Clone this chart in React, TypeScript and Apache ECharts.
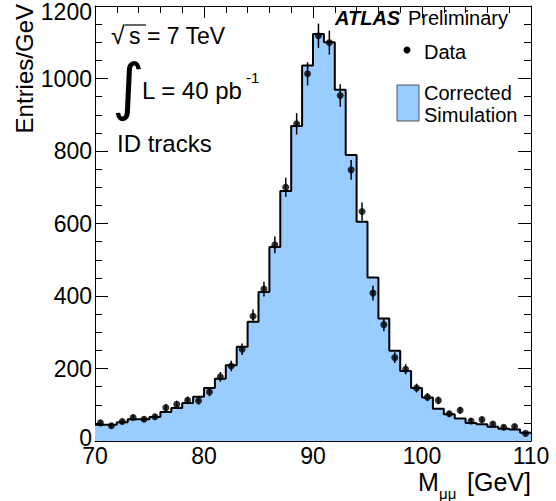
import React, { useEffect, useRef } from "react";
import * as echarts from "echarts";

// Bin centres of the dimuon invariant mass histogram [GeV]
const massBinCenters = [
  70.5, 71.5, 72.5, 73.5, 74.5, 75.5, 76.5, 77.5, 78.5, 79.5,
  80.5, 81.5, 82.5, 83.5, 84.5, 85.5, 86.5, 87.5, 88.5, 89.5,
  90.5, 91.5, 92.5, 93.5, 94.5, 95.5, 96.5, 97.5, 98.5, 99.5,
  100.5, 101.5, 102.5, 103.5, 104.5, 105.5, 106.5, 107.5, 108.5, 109.5,
];
const binWidth = 1;

// Corrected simulation (histogram)
const simulationEntries = [
  45, 45, 52, 60, 60, 66, 80, 91, 105, 122,
  146, 172, 209, 260, 329, 411, 535, 690, 869, 1036,
  1123, 1100, 969, 789, 605, 451, 338, 249, 193, 146,
  120, 89, 74, 62, 50, 46, 39, 34, 32, 23,
];

// Data points
const dataEntries = [
  50, 42, 54, 65, 60, 67, 92, 101, 112, 111,
  135, 177, 207, 253, 344, 419, 541, 700, 875, 1013,
  1118, 1099, 953, 748, 633, 408, 321, 230, 198, 146,
  121, 112, 75, 85, 55, 59, 47, 38, 40, 21,
];

const xMin = 70;
const xMax = 110;
const xMajor = 10;
const xMinor = 2;
const yMin = 0;
const yMax = 1200;
const yMajor = 200;
const yMinor = 50;

const FONT = "Liberation Sans, Arial, Helvetica, sans-serif";
const FILL = "#99ccff";

export default function App() {
  const ref = useRef<HTMLDivElement>(null);

  useEffect(() => {
    if (!ref.current) return;
    const chart = echarts.init(ref.current, undefined, { renderer: "svg" });

    const stepData: number[][] = massBinCenters.map((c, i) => [c - binWidth / 2, simulationEntries[i]]);
    const last = massBinCenters.length - 1;
    stepData.push([massBinCenters[last] + binWidth / 2, simulationEntries[last]]);

    const pointData = massBinCenters.map((c, i) => [c, dataEntries[i]]);
    const errData = massBinCenters.map((c, i) => [c, dataEntries[i], Math.sqrt(dataEntries[i])]);

    const mkAxis = (
      min: number,
      max: number,
      interval: number,
      position: string,
      tickLen: number,
      showLine: boolean,
      label: any
    ) => ({
      type: "value" as const,
      min,
      max,
      interval,
      position,
      axisLine: { show: showLine, onZero: false, lineStyle: { color: "#000", width: 1 } },
      axisTick: { show: true, inside: true, length: tickLen, lineStyle: { color: "#000", width: 1 } },
      minorTick: { show: false },
      splitLine: { show: false },
      axisLabel: label,
    });

    const xLabel = {
      show: true,
      fontSize: 23,
      lineHeight: 18,
      color: "#000",
      fontFamily: FONT,
      margin: 6,
      formatter: (v: number) => String(v),
    };
    const yLabel = {
      show: true,
      fontSize: 23,
      lineHeight: 18,
      color: "#000",
      fontFamily: FONT,
      margin: 3,
      formatter: (v: number) =>
        v === yMax ? "{t|" + v + "}" : v === yMin ? "{b|" + v + "}" : String(v),
      rich: {
        t: { fontSize: 23, lineHeight: 18, fontFamily: FONT, color: "#000", padding: [11, 0, 0, 0] },
        b: { fontSize: 23, lineHeight: 18, fontFamily: FONT, color: "#000", padding: [0, 0, 6, 0] },
      },
    };

    const txt = (x: number, y: number, text: string, fontSize: number, extra: any = {}) => ({
      type: "text",
      x,
      y,
      style: {
        text,
        fontSize,
        fontFamily: FONT,
        fill: "#000",
        align: "left",
        verticalAlign: "middle",
        ...extra,
      },
    });

    chart.setOption({
      animation: false,
      backgroundColor: "#fff",
      grid: {
        left: 95,
        right: 25,
        top: 6,
        bottom: 60,
        containLabel: false,
        outerBoundsMode: "none",
      },
      xAxis: [
        mkAxis(xMin, xMax, xMajor, "bottom", 12, true, xLabel),
        mkAxis(xMin, xMax, xMinor, "bottom", 7, false, { show: false }),
        mkAxis(xMin, xMax, xMajor, "top", 12, true, { show: false }),
        mkAxis(xMin, xMax, xMinor, "top", 7, false, { show: false }),
      ],
      yAxis: [
        mkAxis(yMin, yMax, yMajor, "left", 13, true, yLabel),
        mkAxis(yMin, yMax, yMinor, "left", 7, false, { show: false }),
        mkAxis(yMin, yMax, yMajor, "right", 13, true, { show: false }),
        mkAxis(yMin, yMax, yMinor, "right", 7, false, { show: false }),
      ],
      series: [
        {
          type: "line",
          step: "end",
          data: stepData,
          showSymbol: false,
          symbol: "none",
          lineStyle: { color: "#000", width: 2 },
          areaStyle: { color: FILL, opacity: 1 },
          z: 2,
        },
        {
          type: "custom",
          data: errData,
          encode: { x: 0, y: 1 },
          renderItem: (params: any, api: any) => {
            const x = api.value(0);
            const y = api.value(1);
            const e = api.value(2);
            const top = api.coord([x, y + e]);
            const bot = api.coord([x, y - e]);
            return {
              type: "line",
              shape: { x1: top[0], y1: top[1], x2: bot[0], y2: bot[1] },
              style: { stroke: "#000", lineWidth: 1.5 },
            };
          },
          z: 3,
        },
        {
          type: "scatter",
          data: pointData,
          symbol: "circle",
          symbolSize: 7,
          itemStyle: { color: "#000" },
          z: 4,
        },
      ],
      graphic: [
        // y axis title
        {
          type: "text",
          x: 24,
          y: 4,
          rotation: Math.PI / 2,
          style: {
            text: "Entries/GeV",
            fontSize: 24,
            lineHeight: 22,
            fontFamily: FONT,
            fill: "#000",
            align: "right",
            verticalAlign: "middle",
          },
        },
        // x axis title
        txt(418, 482, "M", 25, { lineHeight: 20 }),
        txt(439, 493, "μμ", 15, { lineHeight: 12 }),
        txt(531, 482, "[GeV]", 25, { align: "right", lineHeight: 20 }),
        // annotations
        txt(111, 35, "√", 25, { lineHeight: 20 }),
        { type: "line", shape: { x1: 125, y1: 25, x2: 146, y2: 25 }, style: { stroke: "#000", lineWidth: 1.2 } },
        txt(129, 36, "s = 7 TeV", 23, { lineHeight: 20 }),
        txt(112, 86, "∫", 62, { fontFamily: "DejaVu Sans, sans-serif", lineHeight: 40 }),
        txt(142, 90, "L = 40 pb", 24, { lineHeight: 20 }),
        txt(246, 77, "-1", 15, { lineHeight: 12 }),
        txt(117, 143, "ID tracks", 24, { lineHeight: 20 }),
        txt(335, 18, "ATLAS", 20, { fontWeight: "bold", fontStyle: "italic" }),
        txt(408, 18, "Preliminary", 20),
        // legend
        { type: "circle", shape: { cx: 407, cy: 50, r: 3.5 }, style: { fill: "#000" } },
        txt(424, 52, "Data", 20),
        { type: "rect", shape: { x: 397, y: 85, width: 22, height: 36 }, style: { fill: FILL, stroke: "#555", lineWidth: 1 } },
        txt(424, 93, "Corrected", 20),
        txt(424, 115, "Simulation", 20),
      ],
    });

    return () => {
      chart.dispose();
    };
  }, []);

  return (
    <div
      ref={ref}
      style={{ position: "fixed", left: 0, top: 0, width: 556, height: 501, background: "#fff" }}
    />
  );
}
